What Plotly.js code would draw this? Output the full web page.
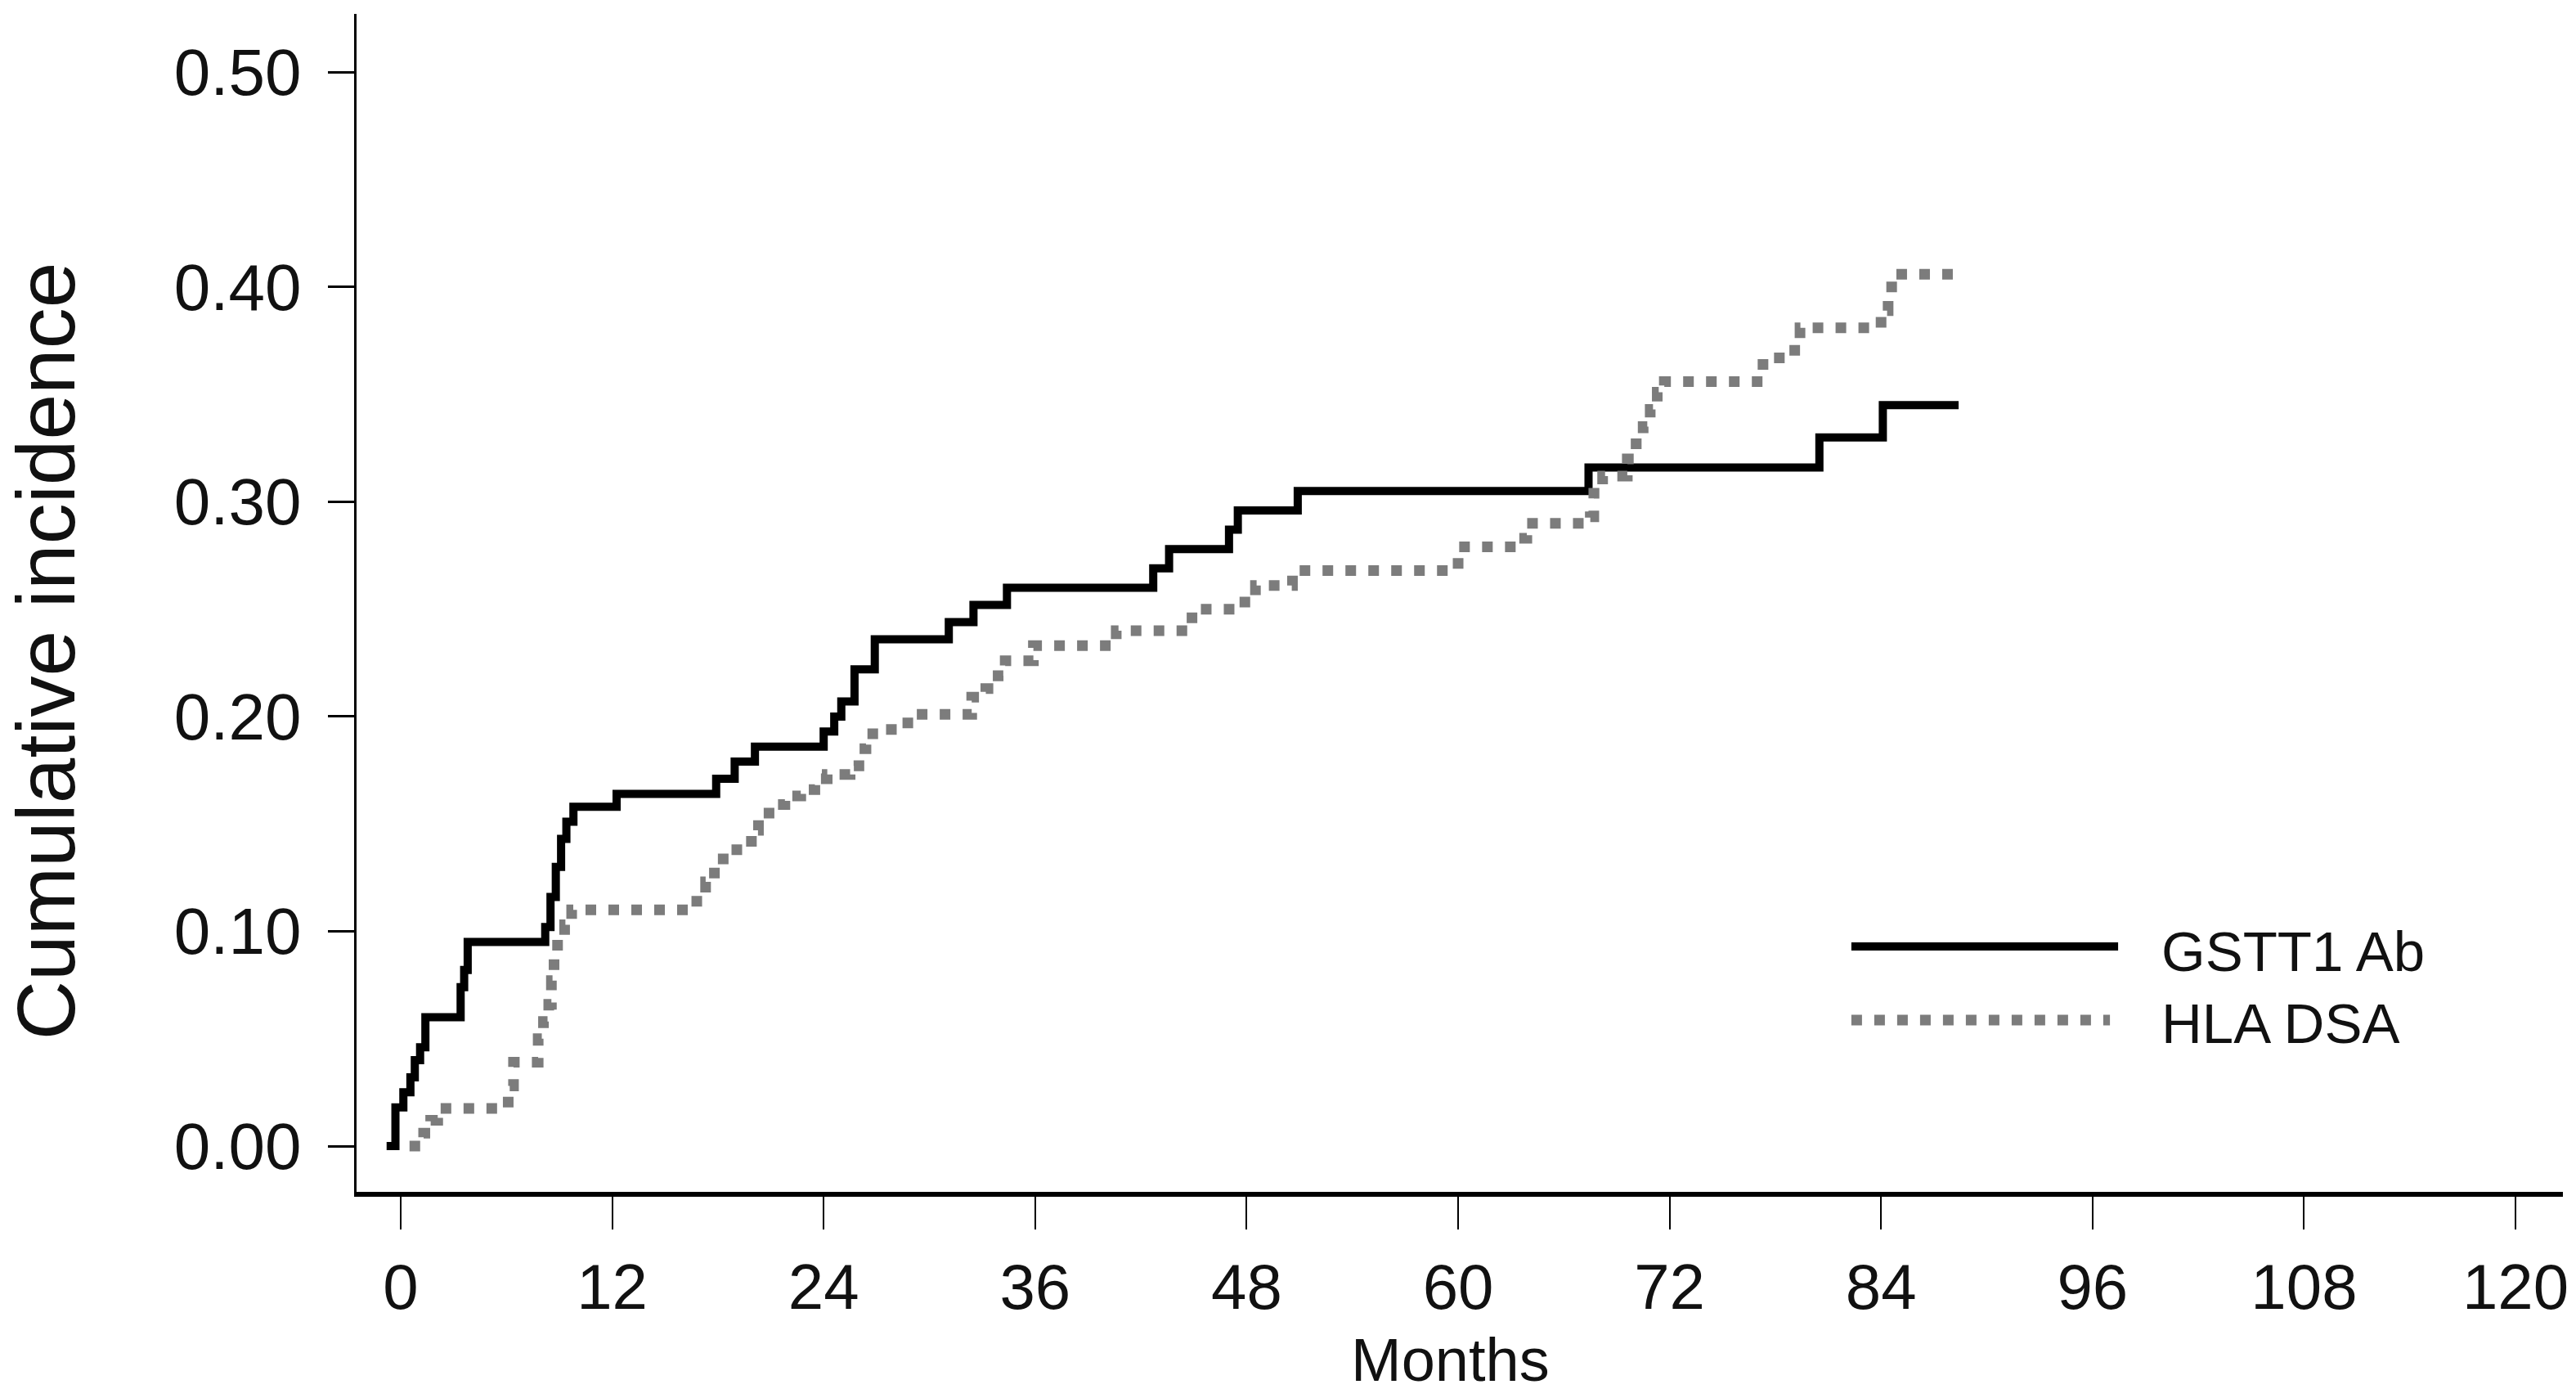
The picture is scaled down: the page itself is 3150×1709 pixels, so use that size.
<!DOCTYPE html>
<html>
<head>
<meta charset="utf-8">
<script src="https://cdn.plot.ly/plotly-3.0.1.min.js"></script>
<style>
  html, body { margin: 0; padding: 0; background: #fff; }
  #chart { width: 3150px; height: 1709px; }
</style>
</head>
<body>
<div id="chart"></div>
<script>
// ---- Data ----
const seriesNames = ["GSTT1 Ab", "HLA DSA"];

const gsttMonths = [-0.8, -0.3, 0.15, 0.55, 0.8, 1.1, 1.4, 3.4, 3.6, 3.8, 8.2, 8.5, 8.8, 9.1, 9.4, 9.8, 12.25, 17.9, 18.95, 20.1, 24.0, 24.6, 25.0, 25.75, 26.9, 31.1, 32.5, 34.4, 42.7, 43.6, 47.0, 47.5, 50.9, 67.4, 80.5, 84.1, 88.4];
const gsttIncidence = [0, 0.018, 0.025, 0.032, 0.040, 0.046, 0.060, 0.074, 0.082, 0.095, 0.102, 0.116, 0.130, 0.143, 0.151, 0.158, 0.164, 0.171, 0.179, 0.186, 0.193, 0.200, 0.207, 0.222, 0.236, 0.244, 0.252, 0.260, 0.269, 0.278, 0.287, 0.296, 0.305, 0.316, 0.330, 0.345, 0.345];

const hlaMonths = [0.5, 1.3, 1.7, 2.1, 6.1, 6.4, 7.8, 8.1, 8.4, 8.55, 8.7, 8.9, 9.3, 9.7, 16.8, 17.3, 17.8, 18.3, 19.9, 20.3, 20.9, 21.8, 22.7, 23.5, 24.2, 25.5, 26.0, 26.4, 27.3, 28.2, 29.2, 32.4, 33.2, 33.9, 34.3, 35.9, 40.6, 44.9, 47.9, 48.5, 50.6, 60.0, 63.3, 63.9, 67.5, 67.7, 68.2, 69.6, 70.1, 70.5, 70.9, 71.3, 71.7, 77.3, 79.1, 79.4, 84.0, 84.4, 84.6, 88.3];
const hlaIncidence = [0, 0.006, 0.012, 0.0175, 0.028, 0.039, 0.050, 0.058, 0.066, 0.077, 0.087, 0.096, 0.103, 0.110, 0.117, 0.123, 0.131, 0.138, 0.147, 0.155, 0.159, 0.163, 0.166, 0.171, 0.173, 0.177, 0.185, 0.192, 0.194, 0.197, 0.201, 0.209, 0.213, 0.219, 0.226, 0.233, 0.240, 0.250, 0.256, 0.261, 0.268, 0.279, 0.283, 0.290, 0.293, 0.304, 0.312, 0.320, 0.327, 0.335, 0.343, 0.351, 0.356, 0.367, 0.374, 0.381, 0.389, 0.397, 0.406, 0.406];

const xTickVals = [0, 12, 24, 36, 48, 60, 72, 84, 96, 108, 120];
const yTickVals = [0, 0.1, 0.2, 0.3, 0.4, 0.5];
const yTickText = ["0.00", "0.10", "0.20", "0.30", "0.40", "0.50"];

const xTitle = "Months";
const yTitle = "Cumulative incidence";

// ---- Styles ----
const blackColor = "#000000";
const greyColor = "#7c7c7c";
const fontFamily = "Liberation Sans, Arial, sans-serif";

const traces = [
  {
    x: gsttMonths, y: gsttIncidence, name: seriesNames[0],
    type: "scatter", mode: "lines",
    line: { shape: "hv", color: blackColor, width: 10 },
    showlegend: false, hoverinfo: "skip"
  },
  {
    x: hlaMonths, y: hlaIncidence, name: seriesNames[1],
    type: "scatter", mode: "lines",
    line: { shape: "hv", color: greyColor, width: 13, dash: "13px,15px" },
    showlegend: false, hoverinfo: "skip"
  }
];

const layout = {
  width: 3150, height: 1709,
  paper_bgcolor: "#ffffff", plot_bgcolor: "#ffffff",
  margin: { l: 436, r: 16, t: 17, b: 252, pad: 0 },
  showlegend: false,
  font: { family: fontFamily, color: "#111111" },
  xaxis: {
    range: [-2.506, 122.69],
    tickmode: "array", tickvals: xTickVals,
    ticks: "outside", ticklen: 40, tickwidth: 2, tickcolor: "#000",
    showline: true, linecolor: "#000", linewidth: 6,
    showgrid: false, zeroline: false,
    tickfont: { family: fontFamily, size: 78, color: "#111" },
    ticklabelstandoff: 3,
    title: { text: "" }
  },
  yaxis: {
    range: [-0.02133, 0.5272],
    tickmode: "array", tickvals: yTickVals, ticktext: yTickText,
    ticks: "outside", ticklen: 32, tickwidth: 3, tickcolor: "#000",
    showline: true, linecolor: "#000", linewidth: 3.5,
    showgrid: false, zeroline: false,
    tickfont: { family: fontFamily, size: 80, color: "#111" },
    ticklabelstandoff: 16,
    title: { text: "" }
  },
  shapes: [
    { type: "line", xref: "paper", yref: "paper", x0: 0.6775, x1: 0.7984, y0: 0.2083, y1: 0.2083,
      line: { color: blackColor, width: 10 } },
    { type: "line", xref: "paper", yref: "paper", x0: 0.6775, x1: 0.7947, y0: 0.1458, y1: 0.1458,
      line: { color: greyColor, width: 13, dash: "13px,15px" } }
  ],
  annotations: [
    { xref: "paper", yref: "paper", x: -0.1408, y: 0.459, xanchor: "center", yanchor: "middle",
      textangle: -90, text: yTitle, showarrow: false,
      font: { family: fontFamily, size: 100, color: "#111" } },
    { xref: "paper", yref: "paper", x: 0.4956, y: -0.1425, xanchor: "center", yanchor: "middle",
      text: xTitle, showarrow: false, borderpad: 0,
      font: { family: fontFamily, size: 74, color: "#111" } },
    { xref: "paper", yref: "paper", x: 0.8173, y: 0.2035, xanchor: "left", yanchor: "middle",
      text: seriesNames[0], showarrow: false, font: { family: fontFamily, size: 69, color: "#111" } },
    { xref: "paper", yref: "paper", x: 0.8173, y: 0.1424, xanchor: "left", yanchor: "middle",
      text: seriesNames[1], showarrow: false, font: { family: fontFamily, size: 69, color: "#111" } }
  ]
};

Plotly.newPlot("chart", traces, layout, { staticPlot: true, displayModeBar: false });
</script>
</body>
</html>
